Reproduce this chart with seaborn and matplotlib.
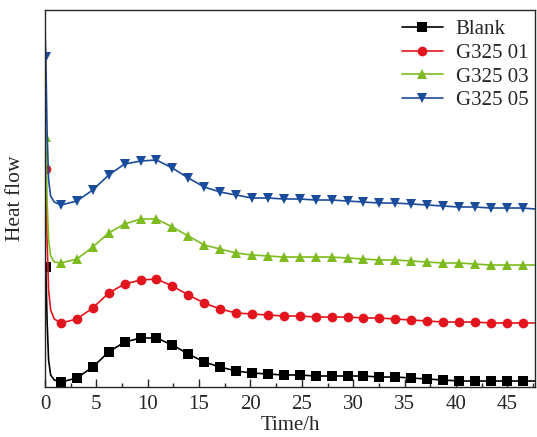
import numpy as np
import pandas as pd
import matplotlib
matplotlib.use("Agg")
import matplotlib.pyplot as plt
import seaborn as sns
from matplotlib.ticker import MultipleLocator, NullLocator

sns.set_style("ticks")
plt.rcParams['font.family'] = ['Liberation Serif', 'DejaVu Serif']

# time axis (h): initial spike points, then one point per marker, then the end
time_h = [0, 0.08, 0.2, 0.35, 0.55, 0.9,
          1.55, 3.1, 4.65, 6.2, 7.75, 9.3, 10.85, 12.4, 13.95, 15.5,
          17.05, 18.6, 20.15, 21.7, 23.25, 24.8, 26.35, 27.9, 29.45, 31.0,
          32.55, 34.1, 35.65, 37.2, 38.75, 40.3, 41.85, 43.4, 44.95, 46.5,
          47.7]

blank = [1.22, 1.20, 0.67, 0.27, 0.12, 0.07,
         0.05, 0.09, 0.20, 0.35, 0.45, 0.49, 0.49, 0.42, 0.33, 0.25,
         0.20, 0.16, 0.14, 0.13, 0.12, 0.12, 0.11, 0.11, 0.11, 0.11,
         0.10, 0.10, 0.09, 0.08, 0.07, 0.06, 0.06, 0.06, 0.06, 0.06,
         0.06]
g325_01 = [2.20, 2.18, 1.47, 0.97, 0.77, 0.68,
           0.64, 0.68, 0.79, 0.94, 1.03, 1.07, 1.08, 1.01, 0.92, 0.84,
           0.78, 0.74, 0.73, 0.72, 0.71, 0.71, 0.70, 0.70, 0.70, 0.69,
           0.69, 0.68, 0.67, 0.66, 0.65, 0.65, 0.65, 0.64, 0.64, 0.64,
           0.64]
g325_03 = [2.54, 2.50, 1.87, 1.47, 1.31, 1.25,
           1.24, 1.28, 1.40, 1.54, 1.63, 1.68, 1.68, 1.60, 1.51, 1.42,
           1.38, 1.34, 1.32, 1.31, 1.30, 1.30, 1.30, 1.30, 1.29, 1.28,
           1.27, 1.27, 1.26, 1.25, 1.24, 1.24, 1.23, 1.22, 1.22, 1.22,
           1.22]
g325_05 = [3.56, 3.30, 2.57, 2.07, 1.91, 1.85,
           1.82, 1.86, 1.97, 2.12, 2.23, 2.26, 2.27, 2.19, 2.09, 2.00,
           1.95, 1.92, 1.89, 1.89, 1.88, 1.88, 1.87, 1.87, 1.86, 1.85,
           1.84, 1.84, 1.83, 1.82, 1.81, 1.80, 1.80, 1.79, 1.79, 1.79,
           1.78]

labels = ['Blank', 'G325 01', 'G325 03', 'G325 05']
series = [blank, g325_01, g325_03, g325_05]
colors = ['#000000', '#E2151F', '#7DBB21', '#1B4B9B']
markers = ['s', 'o', '^', 'v']

mark_idx = [1] + list(range(6, 36))

fig = plt.figure(figsize=(5.37, 4.37), dpi=100)
ax = fig.add_axes([0.0838, 0.1144, 0.9125, 0.8627])

for lab, vals, c, m in zip(labels, series, colors, markers):
    df = pd.DataFrame({'Time': time_h, 'Heat': vals})
    sns.lineplot(data=df, x='Time', y='Heat', ax=ax, color=c, marker=m,
                 markersize=7, markeredgewidth=0, linewidth=1.2,
                 markevery=mark_idx, label=lab, sort=False)

ax.set_xlim(0, 47.7)
ax.set_ylim(0, 3.77)
ax.xaxis.set_major_locator(MultipleLocator(5))
ax.xaxis.set_minor_locator(MultipleLocator(2.5))
ax.yaxis.set_major_locator(NullLocator())
ax.tick_params(axis='x', which='major', direction='in', length=6, width=1,
               labelsize=15, pad=6)
ax.tick_params(axis='x', which='minor', direction='in', length=3, width=1)
for s in ax.spines.values():
    s.set_linewidth(1.0)
    s.set_visible(True)

ax.set_xlabel('Time/h', fontsize=15, labelpad=1)
ax.set_ylabel('Heat flow', fontsize=15.5)
ax.yaxis.set_label_coords(-0.041, 0.5)

leg = ax.legend(loc='upper right', bbox_to_anchor=(1.012, 1.008), frameon=False,
                fontsize=15, handlelength=2.0, handletextpad=0.6,
                labelspacing=0.2, borderaxespad=0.2)

fig.savefig('out.png', dpi=100)
